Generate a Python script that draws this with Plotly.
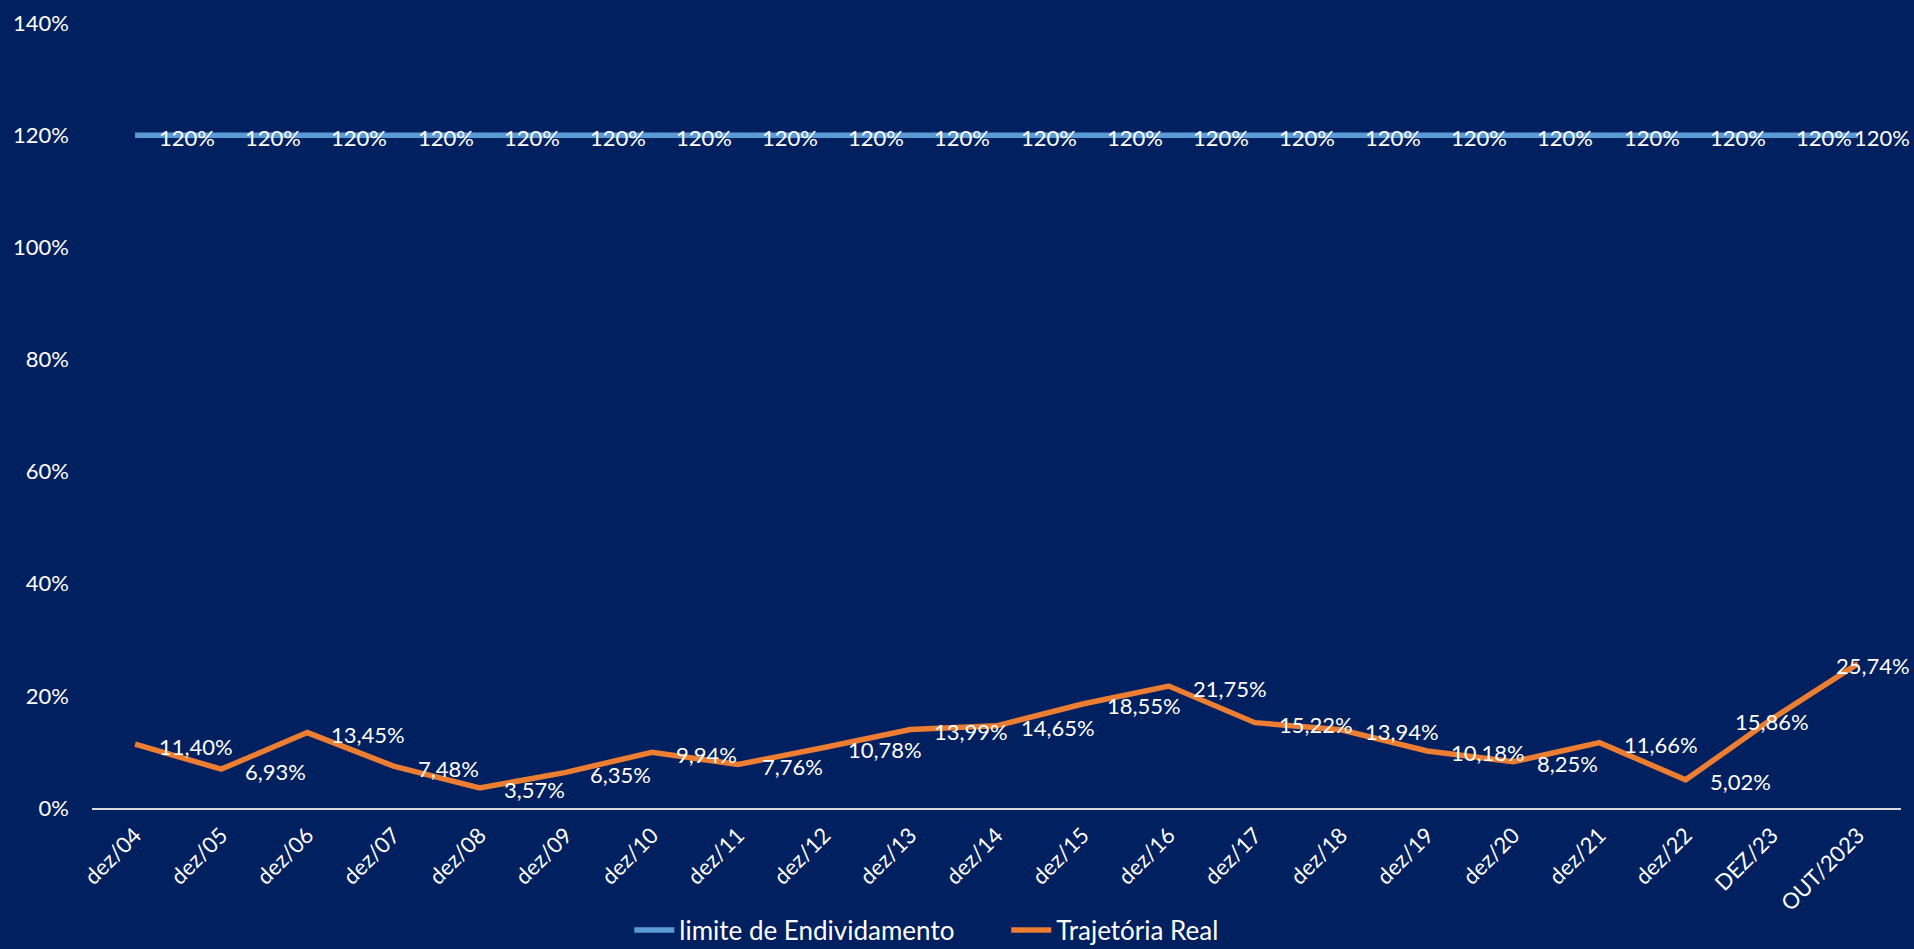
import plotly.graph_objects as go

# ---- data ----
categories = ["dez/04", "dez/05", "dez/06", "dez/07", "dez/08", "dez/09", "dez/10",
              "dez/11", "dez/12", "dez/13", "dez/14", "dez/15", "dez/16", "dez/17",
              "dez/18", "dez/19", "dez/20", "dez/21", "dez/22", "DEZ/23", "OUT/2023"]
limite_endividamento = [120, 120, 120, 120, 120, 120, 120, 120, 120, 120, 120,
                        120, 120, 120, 120, 120, 120, 120, 120, 120, 120]
trajetoria_real = [11.40, 6.93, 13.45, 7.48, 3.57, 6.35, 9.94, 7.76, 10.78, 13.99, 14.65,
                   18.55, 21.75, 15.22, 13.94, 10.18, 8.25, 11.66, 5.02, 15.86, 25.74]
y_tick_values = [0, 20, 40, 60, 80, 100, 120, 140]
y_tick_labels = ["0%", "20%", "40%", "60%", "80%", "100%", "120%", "140%"]

# ---- style ----
BG = "#002060"
BLUE = "#5B9BD5"
ORANGE = "#ED7D31"
AXIS = "#D9D9D9"
FONT = "Lato"
WHITE = "#FFFFFF"
LABEL_SIZE = 22

blue_label_pos = ["right"] * 20 + ["edge"]
orange_label_pos = ["right"] * 19 + ["center", "edge"]
anchor_map = {"right": ("left", 22), "center": ("center", 0), "edge": ("right", 54)}


def fmt_pt(v):
    return f"{v:.2f}".replace(".", ",") + "%"


def fmt_int(v):
    return f"{v:.0f}%"


fig = go.Figure()
fig.add_trace(go.Scatter(x=categories, y=limite_endividamento, mode="lines",
                         name="limite de Endividamento",
                         line=dict(color=BLUE, width=5.5)))
fig.add_trace(go.Scatter(x=categories, y=trajetoria_real, mode="lines",
                         name="Trajetória Real",
                         line=dict(color=ORANGE, width=5.5)))

annotations = []
for cat, val, pos in zip(categories, limite_endividamento, blue_label_pos):
    xa, xs = anchor_map[pos]
    annotations.append(dict(x=cat, y=val, xref="x", yref="y", text=fmt_int(val),
                            showarrow=False, xanchor=xa, yanchor="middle",
                            xshift=xs, yshift=-2,
                            font=dict(family=FONT, size=LABEL_SIZE, color=WHITE)))
for cat, val, pos in zip(categories, trajetoria_real, orange_label_pos):
    xa, xs = anchor_map[pos]
    annotations.append(dict(x=cat, y=val, xref="x", yref="y", text=fmt_pt(val),
                            showarrow=False, xanchor=xa, yanchor="middle",
                            xshift=xs, yshift=-2,
                            font=dict(family=FONT, size=LABEL_SIZE, color=WHITE)))

fig.update_layout(
    width=1914, height=949,
    margin=dict(l=92, r=13, t=23, b=141, autoexpand=False),
    paper_bgcolor=BG, plot_bgcolor=BG,
    font=dict(family=FONT, color=WHITE),
    annotations=annotations,
    showlegend=True,
    legend=dict(orientation="h", x=0.297, xanchor="left",
                yref="container", y=0.02, yanchor="middle",
                font=dict(family=FONT, size=26, color=WHITE),
                bgcolor="rgba(0,0,0,0)", itemwidth=40,
                entrywidth=322, entrywidthmode="pixels"),
    xaxis=dict(type="category", range=[-0.5, 20.5], showgrid=False, zeroline=False,
               showline=True, linecolor=AXIS, linewidth=1.5, ticks="",
               tickangle=-45, ticklabelstandoff=4, automargin=False,
               tickfont=dict(family=FONT, size=LABEL_SIZE, color=WHITE)),
    yaxis=dict(range=[0, 140], tickvals=y_tick_values, ticktext=y_tick_labels,
               showgrid=False, zeroline=False, showline=False, ticks="",
               ticklabelstandoff=22, automargin=False,
               tickfont=dict(family=FONT, size=LABEL_SIZE, color=WHITE)),
)

fig.write_html("out.html", config={"displayModeBar": False},
               post_script="document.body.style.margin='0';")
